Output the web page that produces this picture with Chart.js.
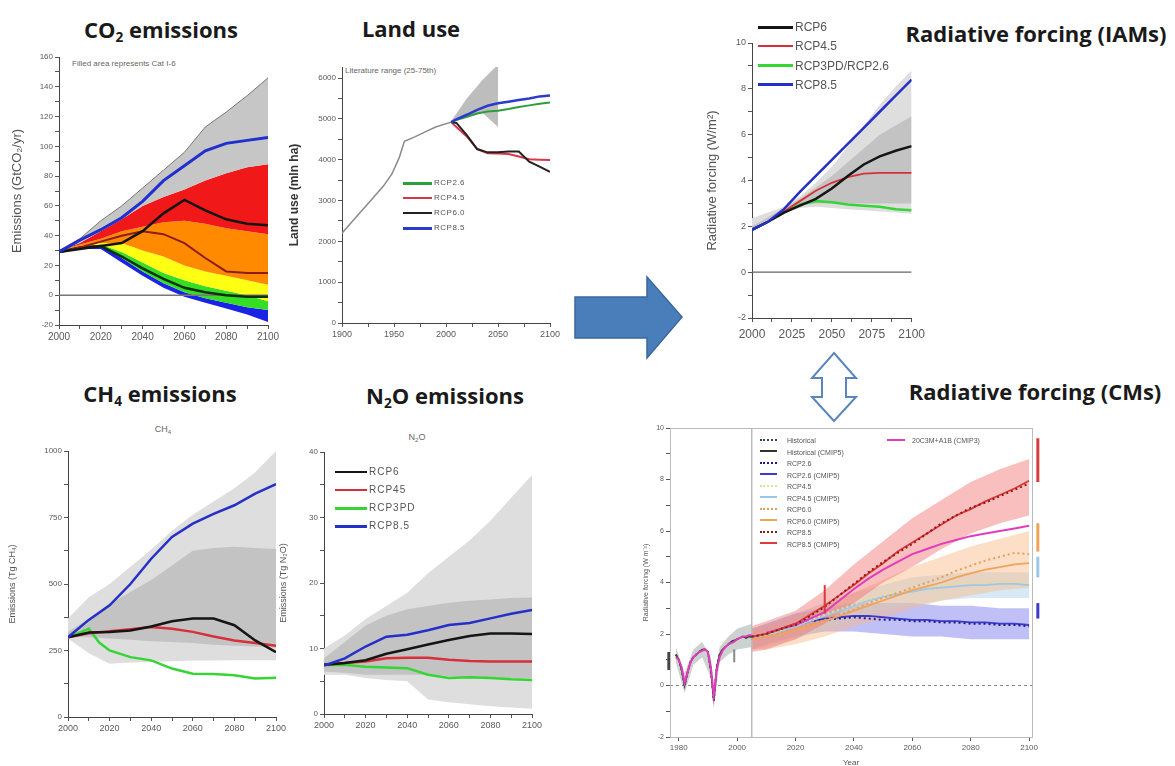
<!DOCTYPE html>
<html><head><meta charset="utf-8"><title>Emissions, land use and radiative forcing</title>
<script src="https://cdn.jsdelivr.net/npm/chart.js@4.4.1/dist/chart.umd.min.js"></script>
<style>
html,body{margin:0;padding:0;background:#fff}
body{width:1175px;height:766px;position:relative;overflow:hidden;font-family:"Liberation Sans",Arial,sans-serif}
canvas{position:absolute}
.h{position:absolute;transform:translate(-50%,-50%);font-family:"Open Sans",Lato,sans-serif;font-weight:700;font-size:22px;letter-spacing:0;color:#1a1a1a;white-space:nowrap;line-height:1}
.h sub{font-size:0.62em;vertical-align:-0.3em;line-height:0}
.s{position:absolute;white-space:nowrap;line-height:1;transform:translateY(-50%);color:#555}
.c{transform:translate(-50%,-50%)}
</style></head><body>
<svg width="1175" height="766" style="position:absolute;left:0;top:0">
<polygon points="575,297 647,297 647,277 682,317 647,358 647,338 575,338" fill="#4a7ebb" stroke="#3a68a0" stroke-width="1.5"/>
<polygon points="834,353 856,378 846,378 846,397 856,397 834,421 812,397 822,397 822,378 812,378" fill="#fff" stroke="#5b86bd" stroke-width="2"/>
</svg>
<div class="h" style="left:161px;top:29px">CO<sub>2</sub> emissions</div>
<div class="h" style="left:411px;top:28px">Land use</div>
<div class="h" style="left:160px;top:393px">CH<sub>4</sub> emissions</div>
<div class="h" style="left:445px;top:395px">N<sub>2</sub>O emissions</div>
<div class="h" style="left:1036px;top:33px">Radiative forcing (IAMs)</div>
<div class="h" style="left:1035px;top:391px">Radiative forcing (CMs)</div>
<div class="s" style="left:72px;top:64px;font-size:8px;color:#666">Filled area represents Cat I-6</div>
<div class="s" style="left:345px;top:71px;font-size:8px;color:#666">Literature range (25-75th)</div>
<div class="s c" style="left:163px;top:430px;font-size:9px;color:#666">CH<sub style="font-size:6px">4</sub></div>
<div class="s c" style="left:417px;top:438px;font-size:9px;color:#666">N<sub style="font-size:6px">2</sub>O</div>
<script>
// ================= DATA =================
// --- CO2 emissions (GtCO2/yr) ---
const CO2_YEARS = [2000,2010,2020,2030,2040,2050,2060,2070,2080,2090,2100];
const CO2_RANGE_TOP = [30,38,50,60,72,84,96,113,123,134,146];
const CO2_CAT_RED_TOP = [30,35,43,51,60,66,71,77,82,86,88];
const CO2_CAT_ORANGE_TOP = [30,34,38,43,46,49,50,48,45,43,41];
const CO2_CAT_YELLOW_TOP = [30,33,35,35,30,26,20,16,13,10,7];
const CO2_CAT_GREEN_TOP = [30,33,34,29,22,15,10,6,3,0,-4];
const CO2_CAT_BLUE_TOP = [30,32,33,25,16,8,2,-2,-5,-8,-10];
const CO2_CAT_BLUE_BOTTOM = [29,31,31,22,13,5,-1,-5,-9,-13,-18];
const CO2_RCP85 = [29,37,44,52,63,77,87,97,102,104,106];
const CO2_RCP6 = [29,31,33,35,43,55,64,57,51,48,47];
const CO2_RCP45 = [29,32,36,40,43,41,35,25,16,15,15];
const CO2_RCP26 = [29,32,33,26,18,11,5,2,0,-1,-1];
const CO2_ZERO_YEARS = [2000,2100];
const CO2_ZERO = [0,0];
const CO2_X_TICKS = [2000,2010,2020,2030,2040,2050,2060,2070,2080,2090,2100];
const CO2_X_LABELS = [2000,2020,2040,2060,2080,2100];
const CO2_Y_TICKS = [-20,-10,0,10,20,30,40,50,60,70,80,90,100,110,120,130,140,150,160];
const CO2_Y_LABELS = [-20,0,20,40,60,80,100,120,140,160];

// --- Land use (mln ha) ---
const LU_HIST_YEARS = [1900,1910,1920,1930,1940,1948,1955,1960,1970,1980,1990,2005];
const LU_HIST = [2200,2490,2780,3070,3360,3650,4050,4450,4560,4680,4800,4920];
const LU_LIT_YEARS = [2005,2020,2035,2050];
const LU_LIT_UPPER = [4950,5500,5950,6330];
const LU_LIT_LOWER = [4900,5030,5150,4800];
const LU_YEARS = [2005,2010,2020,2030,2040,2050,2060,2070,2080,2090,2100];
const LU_RCP26 = [4920,4980,5050,5130,5180,5200,5240,5290,5330,5370,5400];
const LU_RCP45 = [4920,4800,4570,4260,4160,4150,4140,4080,4010,4000,3995];
const LU_RCP60 = [4920,4900,4600,4260,4180,4180,4200,4200,3950,3830,3700];
const LU_RCP85 = [4920,4990,5100,5220,5320,5380,5420,5460,5500,5550,5570];
const LU_X_TICKS = [1900,1925,1950,1975,2000,2025,2050,2075,2100];
const LU_X_LABELS = [1900,1950,2000,2050,2100];
const LU_Y_TICKS = [0,500,1000,1500,2000,2500,3000,3500,4000,4500,5000,5500,6000];
const LU_Y_LABELS = [0,1000,2000,3000,4000,5000,6000];

// --- CH4 emissions (Tg CH4) ---
const CH4_YEARS = [2000,2010,2020,2030,2040,2050,2060,2070,2080,2090,2100];
const CH4_OUTER_UP = [370,450,500,565,630,700,760,810,860,920,1000];
const CH4_OUTER_LO = [295,240,200,205,207,210,212,212,213,213,213];
const CH4_INNER_UP = [320,370,425,470,515,570,625,635,640,635,632];
const CH4_INNER_LO = [300,300,295,290,285,282,278,272,268,265,260];
const CH4_RCP85 = [300,365,420,500,595,677,727,764,796,840,875];
const CH4_RCP6 = [300,318,320,325,340,360,370,370,345,288,244];
const CH4_RCP45 = [300,315,322,330,338,332,320,303,288,278,268];
const CH4_GREEN_YEARS = [2000,2005,2010,2015,2020,2030,2040,2050,2060,2070,2080,2090,2100];
const CH4_RCP3PD = [300,315,332,280,250,225,213,182,163,162,157,145,148];
const CH4_X_TICKS = [2000,2010,2020,2030,2040,2050,2060,2070,2080,2090,2100];
const CH4_X_LABELS = [2000,2020,2040,2060,2080,2100];
const CH4_Y_TICKS = [0,125,250,375,500,625,750,875,1000];
const CH4_Y_LABELS = [0,250,500,750,1000];

// --- N2O emissions (Tg N2O) ---
const N2O_YEARS = [2000,2010,2020,2030,2040,2050,2060,2070,2080,2090,2100];
const N2O_OUTER_UP = [10,12,14.5,16.5,18.5,21.5,24,26.5,29.5,33,36.5];
const N2O_OUTER_LO = [6,6,5.5,5.2,5,2.2,1.8,1.5,1.2,1,0.8];
const N2O_INNER_UP = [8.5,11,13.5,15,16,16.5,17,17.3,17.5,17.7,17.8];
const N2O_INNER_LO = [6.5,6.3,6,6,6,6,5.8,5.5,5.5,5.5,5.5];
const N2O_RCP85 = [7.4,8.5,10.3,11.8,12.1,12.8,13.6,13.9,14.6,15.3,15.9];
const N2O_RCP6 = [7.5,7.8,8.2,9.2,9.9,10.6,11.3,11.9,12.3,12.3,12.2];
const N2O_RCP45 = [7.5,7.8,8,8.5,8.6,8.6,8.3,8.1,8,8,8];
const N2O_RCP3PD = [7.5,7.5,7.2,7.1,7,6,5.5,5.6,5.5,5.3,5.2];
const N2O_X_TICKS = [2000,2010,2020,2030,2040,2050,2060,2070,2080,2090,2100];
const N2O_X_LABELS = [2000,2020,2040,2060,2080,2100];
const N2O_Y_TICKS = [0,5,10,15,20,25,30,35,40];
const N2O_Y_LABELS = [0,10,20,30,40];

// --- Radiative forcing, IAMs (W/m2) ---
const IAM_YEARS = [2000,2010,2020,2030,2040,2050,2060,2070,2080,2090,2100];
const IAM_LIGHT_UP = [2.35,2.6,2.85,3.3,3.9,4.6,5.5,6.4,7.3,8.1,8.8];
const IAM_LIGHT_LO = [1.8,2.2,2.6,2.8,2.85,2.8,2.75,2.7,2.65,2.6,2.55];
const IAM_DARK_UP = [2.0,2.4,2.8,3.2,3.7,4.2,4.8,5.4,6.0,6.4,6.8];
const IAM_DARK_LO = [1.9,2.3,2.7,2.9,3.0,3.0,3.0,3.0,3.0,3.0,3.0];
const IAM_RCP6 = [1.85,2.2,2.6,2.9,3.2,3.65,4.2,4.7,5.05,5.3,5.5];
const IAM_RCP45 = [1.85,2.2,2.65,3.1,3.55,3.9,4.15,4.3,4.33,4.33,4.33];
const IAM_RCP26 = [1.85,2.2,2.6,2.95,3.1,3.05,2.95,2.9,2.85,2.75,2.7];
const IAM_RCP85 = [1.85,2.2,2.75,3.5,4.2,4.9,5.6,6.3,7.0,7.7,8.4];
const IAM_ZERO_YEARS = [2000,2100];
const IAM_ZERO = [0,0];
const IAM_X_TICKS = [2000,2012.5,2025,2037.5,2050,2062.5,2075,2087.5,2100];
const IAM_X_LABELS = [2000,2025,2050,2075,2100];
const IAM_Y_TICKS = [-2,-1,0,1,2,3,4,5,6,7,8,9,10];
const IAM_Y_LABELS = [-2,0,2,4,6,8,10];

// --- Radiative forcing, climate models (W m-2) ---
const CM_HIST_YEARS = [1979,1980,1981,1982,1983,1984,1985,1986,1987,1988,1989,1990,1991,1992,1993,1994,1995,1996,1997,1998,1999,2000,2001,2002,2003,2004,2005];
const CM_HIST = [1.2,1.0,0.6,0.0,0.5,0.9,1.1,1.2,1.3,1.4,1.4,1.3,0.6,-0.6,0.7,1.2,1.4,1.5,1.6,1.7,1.75,1.8,1.85,1.9,1.85,1.9,1.9];
const CM_CMIP3_HIST = [1.1,1.0,0.7,0.1,0.5,0.9,1.1,1.2,1.3,1.35,1.4,1.3,0.7,-0.4,0.6,1.1,1.35,1.5,1.6,1.65,1.7,1.8,1.85,1.9,1.9,1.95,1.95];
const CM_CMIP3_PROJ_YEARS = [2010,2015,2020,2025,2030,2035,2040,2045,2050,2055,2060,2065,2070,2075,2080,2085,2090,2095,2100];
const CM_CMIP3_PROJ = [2.05,2.2,2.35,2.6,2.85,3.3,3.75,4.15,4.5,4.8,5.1,5.3,5.5,5.65,5.8,5.9,6.0,6.1,6.2];
const CM_PROJ_YEARS = [2005,2010,2015,2020,2025,2030,2035,2040,2045,2050,2055,2060,2065,2070,2075,2080,2085,2090,2095,2100];
const CM_RCP85 = [1.9,2.0,2.2,2.35,2.7,3.05,3.5,3.95,4.4,4.8,5.15,5.5,5.9,6.3,6.6,6.9,7.1,7.35,7.6,7.85];
const CM_RCP85_CMIP5 = [1.9,2.0,2.2,2.4,2.75,3.1,3.5,3.9,4.35,4.75,5.2,5.55,5.9,6.25,6.6,6.85,7.15,7.4,7.65,7.95];
const CM_RCP60 = [1.8,1.9,2.05,2.2,2.35,2.55,2.75,2.95,3.2,3.4,3.6,3.8,4.0,4.2,4.45,4.65,4.85,5.0,5.15,5.1];
const CM_RCP60_CMIP5 = [1.8,1.9,2.0,2.15,2.3,2.5,2.7,2.9,3.1,3.3,3.5,3.7,3.85,4.0,4.2,4.35,4.5,4.6,4.7,4.75];
const CM_RCP45 = [1.8,1.95,2.15,2.35,2.55,2.75,2.95,3.15,3.35,3.5,3.65,3.75,3.85,3.9,3.95,4.0,4.0,4.05,4.05,4.0];
const CM_RCP45_CMIP5 = [1.8,1.95,2.1,2.3,2.5,2.7,2.9,3.1,3.3,3.45,3.55,3.65,3.75,3.8,3.85,3.9,3.9,3.95,3.95,3.9];
const CM_RCP26 = [1.8,2.0,2.2,2.35,2.5,2.55,2.6,2.65,2.6,2.55,2.55,2.5,2.5,2.45,2.45,2.4,2.4,2.35,2.35,2.3];
const CM_RCP26_CMIP5 = [1.8,2.0,2.2,2.4,2.5,2.6,2.65,2.7,2.7,2.65,2.6,2.55,2.55,2.5,2.5,2.45,2.45,2.4,2.4,2.35];
const CM_BAND_YEARS = [2005,2010,2020,2030,2040,2050,2060,2070,2080,2090,2100];
const CM_RCP85_UP = [2.3,2.5,2.9,3.7,4.7,5.6,6.5,7.2,7.9,8.4,8.8];
const CM_RCP85_LO = [1.3,1.4,1.8,2.4,3.2,4.0,4.6,5.3,5.9,6.3,6.6];
const CM_RCP60_UP = [2.2,2.3,2.7,3.1,3.6,4.1,4.6,5.0,5.4,5.7,6.0];
const CM_RCP60_LO = [1.4,1.4,1.6,1.9,2.3,2.6,3.0,3.3,3.5,3.7,3.8];
const CM_RCP45_UP = [2.2,2.4,2.8,3.2,3.6,3.9,4.2,4.3,4.4,4.4,4.4];
const CM_RCP45_LO = [1.4,1.5,1.8,2.2,2.6,2.9,3.1,3.3,3.4,3.4,3.4];
const CM_RCP26_UP = [2.2,2.4,2.8,3.0,3.2,3.2,3.2,3.1,3.1,3.0,3.0];
const CM_RCP26_LO = [1.4,1.6,1.9,2.1,2.1,2.0,1.9,1.9,1.8,1.8,1.8];
const CM_HIST_BAND_YEARS = [1979,1982,1985,1988,1991,1992,1994,1997,2000,2005];
const CM_HIST_UP = [1.5,0.5,1.4,1.7,1.1,0.0,1.5,1.9,2.2,2.4];
const CM_HIST_LO = [0.9,-0.3,0.8,1.1,0.3,-0.9,0.9,1.2,1.4,1.5];
const CM_MARK_X = [2103,2103,2103,2103,1976.6,1999,2030];
const CM_MARK_LO = [7.9,5.2,4.2,2.6,0.6,0.9,2.8];
const CM_MARK_HI = [9.6,6.3,5.0,3.2,1.3,1.4,3.9];
const CM_VLINE_YEARS = [2005,2005];
const CM_VLINE = [-2,10];
const CM_ZERO_YEARS = [1977,2101];
const CM_ZERO = [0,0];
const CM_X_TICKS = [1980,2000,2020,2040,2060,2080,2100];
const CM_X_LABELS = [1980,2000,2020,2040,2060,2080,2100];
const CM_Y_TICKS = [-2,-1,0,1,2,3,4,5,6,7,8,9,10];
const CM_Y_LABELS = [-2,0,2,4,6,8,10];

// ================= STYLES =================
const COL = {
  blue:'#2530c8', black:'#151515', red:'#d8303a', green:'#35d535',
  co2Grey:'#c6c6c6', co2Red:'#f01818', co2Orange:'#ff8a00', co2Yellow:'#ffff14', co2Green:'#35dd25', co2Blue:'#1a22e8',
  co2Blue85:'#1f2fd0', co2Red45:'#8e1c1c', co2Dark26:'#0f300f',
  luHist:'#8a8a8a', luLit:'#bdbdbd', luGreen:'#2e9e3a', luRed:'#d9364c', luBlack:'#222', luBlue:'#2a3cc8',
  bandOuter:'#dedede', bandInner:'#c3c3c3',
  cmHistDot:'#2f4a2f', cmHist:'#333', cm26Dot:'#1c1c8c', cm26:'#3b3bd0', cm45Dot:'#e6dc9a', cm45:'#9cc8e6',
  cm60Dot:'#e0a060', cm60:'#f2a35a', cm85Dot:'#8b1a1a', cm85:'#d93a3a', cmPink:'#e23cbc'
};

// ================= HELPERS =================
function pts(xs, ys){ return xs.map((x,i)=>({x:x, y:ys[i]})); }
function L(label, xs, ys, color, width, extra){
  return Object.assign({label:label, data:pts(xs,ys), borderColor:color, borderWidth:width, pointRadius:0, fill:false}, extra||{});
}
function B(label, xs, ys, color, fill){
  return {label:label, data:pts(xs,ys), borderWidth:0, borderColor:'rgba(0,0,0,0)', backgroundColor:color, pointRadius:0, fill:fill};
}
function axis(min, max, ticks, labels, fontSize, title, extra){
  const a = {
    type:'linear', min:min, max:max,
    afterBuildTicks: s => { s.ticks = ticks.map(v => ({value:v})); },
    ticks:{autoSkip:false, maxRotation:0, minRotation:0, padding:2, color:'#5a5a5a',
      font:{size:fontSize, family:'"Liberation Sans", Arial, sans-serif'},
      callback: v => labels.includes(v) ? String(v) : ''},
    grid:{display:true, drawOnChartArea:false, drawTicks:true, tickLength:4, color:'#555'},
    border:{display:true, color:'#444'}
  };
  if (title) a.title = Object.assign({display:true, color:'#555'}, title);
  return Object.assign(a, extra||{});
}
const marksPlugin = {
  id:'marks',
  afterDatasetsDraw(chart, args, opts){
    if (!opts || !opts.items) return;
    const {ctx} = chart; const x = chart.scales.x, y = chart.scales.y;
    ctx.save();
    opts.items.forEach(m => {
      ctx.strokeStyle = m.color; ctx.lineWidth = m.width;
      const px = x.getPixelForValue(m.x);
      ctx.beginPath(); ctx.moveTo(px, y.getPixelForValue(m.lo)); ctx.lineTo(px, y.getPixelForValue(m.hi)); ctx.stroke();
    });
    ctx.restore();
  }
};
const framePlugin = {
  id:'frame',
  afterDraw(chart, args, opts){
    if (!opts || !opts.color) return;
    const {ctx, chartArea:a} = chart;
    ctx.save(); ctx.strokeStyle = opts.color; ctx.lineWidth = 1;
    ctx.strokeRect(a.left+0.5, a.top+0.5, a.right-a.left, a.bottom-a.top);
    ctx.restore();
  }
};
function panel(box, area, datasets, xCfg, yCfg, pluginOpts){
  const c = document.createElement('canvas');
  c.width = box.w; c.height = box.h;
  c.style.left = box.x+'px'; c.style.top = box.y+'px';
  document.body.appendChild(c);
  const padL = 2;
  xCfg.afterFit = s => { s.height = box.y + box.h - area.b; };
  yCfg.afterFit = s => { s.width = area.l - box.x - padL; };
  return new Chart(c, {
    type:'line',
    data:{datasets:datasets},
    options:{
      responsive:false, animation:false, events:[], devicePixelRatio:1,
      layout:{padding:{left:padL, top:area.t - box.y, right:box.x + box.w - area.r, bottom:0}},
      scales:{x:xCfg, y:yCfg},
      elements:{line:{tension:0}},
      plugins:Object.assign({legend:{display:false}, tooltip:{enabled:false}, filler:{propagate:false}}, pluginOpts||{})
    },
    plugins:[marksPlugin, framePlugin]
  });
}
function legend(x, y, dy, items, o){
  items.forEach((it, i) => {
    const yy = y + i*dy;
    const s = document.createElement('div');
    s.style.cssText = 'position:absolute;left:'+x+'px;top:'+(yy - it.width/2)+'px;width:'+o.sw+'px;border-top:'+it.width+'px '+(it.dash?'dotted':'solid')+' '+it.color;
    document.body.appendChild(s);
    const t = document.createElement('div');
    t.className = 's';
    t.style.left = (x + o.sw + o.gap)+'px'; t.style.top = yy+'px';
    t.style.fontSize = o.fs+'px'; t.style.color = o.tc || '#555';
    t.style.letterSpacing = (o.ls||0)+'px';
    t.textContent = it.label;
    document.body.appendChild(t);
  });
}

// ================= PANELS =================
// CO2 emissions
panel({x:0,y:45,w:285,h:305}, {l:59,t:57,r:268,b:325}, [
  L('RCP8.5', CO2_YEARS, CO2_RCP85, COL.co2Blue85, 3),
  L('RCP6', CO2_YEARS, CO2_RCP6, COL.black, 2.5),
  L('RCP4.5', CO2_YEARS, CO2_RCP45, COL.co2Red45, 2),
  L('RCP2.6', CO2_YEARS, CO2_RCP26, COL.co2Dark26, 2.5),
  L('zero', CO2_ZERO_YEARS, CO2_ZERO, '#777', 1.5),
  Object.assign(B('Range', CO2_YEARS, CO2_RANGE_TOP, COL.co2Grey, '+1'), {borderWidth:1, borderColor:'#777'}),
  B('Cat I-II', CO2_YEARS, CO2_CAT_RED_TOP, COL.co2Red, '+1'),
  B('Cat III', CO2_YEARS, CO2_CAT_ORANGE_TOP, COL.co2Orange, '+1'),
  B('Cat IV', CO2_YEARS, CO2_CAT_YELLOW_TOP, COL.co2Yellow, '+1'),
  B('Cat V', CO2_YEARS, CO2_CAT_GREEN_TOP, COL.co2Green, '+1'),
  B('Cat VI', CO2_YEARS, CO2_CAT_BLUE_TOP, COL.co2Blue, '+1'),
  B('Cat VI low', CO2_YEARS, CO2_CAT_BLUE_BOTTOM, COL.co2Blue, false)
],
axis(2000, 2100, CO2_X_TICKS, CO2_X_LABELS, 10),
axis(-20, 160, CO2_Y_TICKS, CO2_Y_LABELS, 8, {text:'Emissions (GtCO\u2082/yr)', font:{size:13, family:'"Liberation Sans", Arial, sans-serif'}, padding:{top:8,bottom:0}}));

// Land use
panel({x:285,y:55,w:280,h:295}, {l:342,t:67,r:550,b:323}, [
  L('RCP8.5', LU_YEARS, LU_RCP85, COL.luBlue, 2.5),
  L('RCP2.6', LU_YEARS, LU_RCP26, COL.luGreen, 2),
  L('RCP6.0', LU_YEARS, LU_RCP60, COL.luBlack, 2),
  L('RCP4.5', LU_YEARS, LU_RCP45, COL.luRed, 2),
  L('Historical', LU_HIST_YEARS, LU_HIST, COL.luHist, 1.5),
  B('Literature upper', LU_LIT_YEARS, LU_LIT_UPPER, COL.luLit, '+1'),
  B('Literature lower', LU_LIT_YEARS, LU_LIT_LOWER, COL.luLit, false)
],
axis(1900, 2100, LU_X_TICKS, LU_X_LABELS, 9),
axis(0, 6270, LU_Y_TICKS, LU_Y_LABELS, 8, {text:'Land use (mln ha)', color:'#333', font:{size:12, weight:'bold', family:'"Liberation Sans", Arial, sans-serif'}, padding:{top:0,bottom:0}}));

// CH4 emissions
panel({x:0,y:440,w:290,h:300}, {l:68,t:451,r:276,b:717}, [
  L('RCP8.5', CH4_YEARS, CH4_RCP85, COL.blue, 2.5),
  L('RCP6', CH4_YEARS, CH4_RCP6, COL.black, 2.5),
  L('RCP4.5', CH4_YEARS, CH4_RCP45, COL.red, 2.5),
  L('RCP3PD', CH4_GREEN_YEARS, CH4_RCP3PD, COL.green, 2.5),
  B('Inner up', CH4_YEARS, CH4_INNER_UP, COL.bandInner, '+1'),
  B('Inner lo', CH4_YEARS, CH4_INNER_LO, COL.bandInner, false),
  B('Outer up', CH4_YEARS, CH4_OUTER_UP, COL.bandOuter, '+1'),
  B('Outer lo', CH4_YEARS, CH4_OUTER_LO, COL.bandOuter, false)
],
axis(2000, 2100, CH4_X_TICKS, CH4_X_LABELS, 9),
axis(0, 1000, CH4_Y_TICKS, CH4_Y_LABELS, 8, {text:'Emissions (Tg CH\u2084)', font:{size:9, family:'"Liberation Sans", Arial, sans-serif'}, padding:{top:5,bottom:0}}));

// N2O emissions
panel({x:275,y:440,w:275,h:300}, {l:324,t:452,r:532,b:714}, [
  L('RCP8.5', N2O_YEARS, N2O_RCP85, COL.blue, 2.5),
  L('RCP6', N2O_YEARS, N2O_RCP6, COL.black, 2.5),
  L('RCP45', N2O_YEARS, N2O_RCP45, COL.red, 2.5),
  L('RCP3PD', N2O_YEARS, N2O_RCP3PD, COL.green, 2.5),
  B('Inner up', N2O_YEARS, N2O_INNER_UP, COL.bandInner, '+1'),
  B('Inner lo', N2O_YEARS, N2O_INNER_LO, COL.bandInner, false),
  B('Outer up', N2O_YEARS, N2O_OUTER_UP, COL.bandOuter, '+1'),
  B('Outer lo', N2O_YEARS, N2O_OUTER_LO, COL.bandOuter, false)
],
axis(2000, 2100, N2O_X_TICKS, N2O_X_LABELS, 9),
axis(0, 40, N2O_Y_TICKS, N2O_Y_LABELS, 8, {text:'Emissions (Tg N\u2082O)', font:{size:9, family:'"Liberation Sans", Arial, sans-serif'}, padding:{top:1,bottom:0}}));

// Radiative forcing IAMs
const iamX = axis(2000, 2100, IAM_X_TICKS, IAM_X_LABELS, 12);
iamX.ticks.padding = 5;
panel({x:690,y:30,w:240,h:320}, {l:752,t:43,r:916,b:318}, [
  L('RCP8.5', IAM_YEARS, IAM_RCP85, COL.blue, 2.5),
  L('RCP6', IAM_YEARS, IAM_RCP6, COL.black, 2.5),
  L('RCP4.5', IAM_YEARS, IAM_RCP45, COL.red, 1.8),
  L('RCP3PD/RCP2.6', IAM_YEARS, IAM_RCP26, COL.green, 2.5),
  L('zero', IAM_ZERO_YEARS, IAM_ZERO, '#666', 1.2),
  B('Dark up', IAM_YEARS, IAM_DARK_UP, COL.bandInner, '+1'),
  B('Dark lo', IAM_YEARS, IAM_DARK_LO, COL.bandInner, false),
  B('Light up', IAM_YEARS, IAM_LIGHT_UP, COL.bandOuter, '+1'),
  B('Light lo', IAM_YEARS, IAM_LIGHT_LO, COL.bandOuter, false)
],
iamX,
axis(-2, 10, IAM_Y_TICKS, IAM_Y_LABELS, 9, {text:'Radiative forcing (W/m\u00b2)', font:{size:13, family:'"Liberation Sans", Arial, sans-serif'}, padding:{top:13,bottom:0}}));

// Radiative forcing CMs
const cmMarkColors = [COL.cm85, COL.cm60, COL.cm45, COL.cm26, '#444', '#888', COL.cm85];
const cmMarkWidths = [3,3,3,3,3,2,2];
panel({x:630,y:415,w:420,h:357}, {l:670,t:428,r:1032,b:737}, [
  L('RCP8.5', CM_PROJ_YEARS, CM_RCP85, COL.cm85Dot, 2, {borderDash:[2,3]}),
  L('RCP8.5 (CMIP5)', CM_PROJ_YEARS, CM_RCP85_CMIP5, COL.cm85, 1.8),
  L('20C3M+A1B (CMIP3) hist', CM_HIST_YEARS, CM_CMIP3_HIST, COL.cmPink, 2),
  L('20C3M+A1B (CMIP3)', CM_CMIP3_PROJ_YEARS, CM_CMIP3_PROJ, COL.cmPink, 2),
  L('RCP6.0', CM_PROJ_YEARS, CM_RCP60, COL.cm60Dot, 2, {borderDash:[2,3]}),
  L('RCP6.0 (CMIP5)', CM_PROJ_YEARS, CM_RCP60_CMIP5, COL.cm60, 1.8),
  L('RCP4.5', CM_PROJ_YEARS, CM_RCP45, COL.cm45Dot, 2, {borderDash:[2,3]}),
  L('RCP4.5 (CMIP5)', CM_PROJ_YEARS, CM_RCP45_CMIP5, COL.cm45, 1.8),
  L('RCP2.6', CM_PROJ_YEARS, CM_RCP26, COL.cm26Dot, 2, {borderDash:[2,3]}),
  L('RCP2.6 (CMIP5)', CM_PROJ_YEARS, CM_RCP26_CMIP5, COL.cm26, 1.8),
  L('Historical', CM_HIST_YEARS, CM_HIST, COL.cmHistDot, 2, {borderDash:[2,3]}),
  L('Historical (CMIP5)', CM_HIST_YEARS, CM_HIST, COL.cmHist, 1.6),
  L('2005', CM_VLINE_YEARS, CM_VLINE, '#bbb', 1.5),
  L('zero', CM_ZERO_YEARS, CM_ZERO, '#888', 1, {borderDash:[3,3]}),
  B('85 up', CM_BAND_YEARS, CM_RCP85_UP, 'rgba(242,110,110,0.45)', '+1'),
  B('85 lo', CM_BAND_YEARS, CM_RCP85_LO, 'rgba(0,0,0,0)', false),
  B('60 up', CM_BAND_YEARS, CM_RCP60_UP, 'rgba(250,185,130,0.45)', '+1'),
  B('60 lo', CM_BAND_YEARS, CM_RCP60_LO, 'rgba(0,0,0,0)', false),
  B('45 up', CM_BAND_YEARS, CM_RCP45_UP, 'rgba(175,212,236,0.5)', '+1'),
  B('45 lo', CM_BAND_YEARS, CM_RCP45_LO, 'rgba(0,0,0,0)', false),
  B('26 up', CM_BAND_YEARS, CM_RCP26_UP, 'rgba(130,130,240,0.5)', '+1'),
  B('26 lo', CM_BAND_YEARS, CM_RCP26_LO, 'rgba(0,0,0,0)', false),
  B('hist up', CM_HIST_BAND_YEARS, CM_HIST_UP, 'rgba(140,155,150,0.45)', '+1'),
  B('hist lo', CM_HIST_BAND_YEARS, CM_HIST_LO, 'rgba(0,0,0,0)', false)
],
axis(1977, 2101, CM_X_TICKS, CM_X_LABELS, 8, {text:'Year', font:{size:8, family:'"Liberation Sans", Arial, sans-serif'}, padding:{top:0,bottom:4}}, {}),
axis(-2, 10, CM_Y_TICKS, CM_Y_LABELS, 7, {text:'Radiative forcing (W m\u207b\u00b2)', font:{size:7, family:'"Liberation Sans", Arial, sans-serif'}, padding:{top:10,bottom:0}}),
{marks:{items:CM_MARK_X.map((x,i)=>({x:x, lo:CM_MARK_LO[i], hi:CM_MARK_HI[i], color:cmMarkColors[i], width:cmMarkWidths[i]}))},
 frame:{color:'#bbb'}});

// ================= LEGENDS =================
legend(403, 183, 15, [
  {label:'RCP2.6', color:COL.luGreen, width:3},
  {label:'RCP4.5', color:COL.luRed, width:2},
  {label:'RCP6.0', color:COL.luBlack, width:2.5},
  {label:'RCP8.5', color:COL.luBlue, width:3}
], {sw:29, gap:2, fs:8, ls:0.5});
legend(335, 472, 18, [
  {label:'RCP6', color:COL.black, width:2.5},
  {label:'RCP45', color:COL.red, width:2.5},
  {label:'RCP3PD', color:COL.green, width:3},
  {label:'RCP8.5', color:COL.blue, width:3}
], {sw:32, gap:2, fs:10, ls:1});
legend(758, 27, 19.3, [
  {label:'RCP6', color:COL.black, width:3},
  {label:'RCP4.5', color:COL.red, width:2},
  {label:'RCP3PD/RCP2.6', color:COL.green, width:3},
  {label:'RCP8.5', color:COL.blue, width:3}
], {sw:35, gap:2, fs:12});
legend(760, 440, 11.5, [
  {label:'Historical', color:COL.cmHistDot, width:2, dash:true},
  {label:'Historical (CMIP5)', color:COL.cmHist, width:2.5},
  {label:'RCP2.6', color:COL.cm26Dot, width:2, dash:true},
  {label:'RCP2.6 (CMIP5)', color:COL.cm26, width:2.5},
  {label:'RCP4.5', color:COL.cm45Dot, width:2, dash:true},
  {label:'RCP4.5 (CMIP5)', color:COL.cm45, width:2.5},
  {label:'RCP6.0', color:COL.cm60Dot, width:2, dash:true},
  {label:'RCP6.0 (CMIP5)', color:COL.cm60, width:2.5},
  {label:'RCP8.5', color:COL.cm85Dot, width:2, dash:true},
  {label:'RCP8.5 (CMIP5)', color:COL.cm85, width:2.5}
], {sw:17, gap:10, fs:7});
legend(887, 440, 11.5, [
  {label:'20C3M+A1B (CMIP3)', color:COL.cmPink, width:2.5}
], {sw:18, gap:7, fs:7});
</script>
</body></html>
